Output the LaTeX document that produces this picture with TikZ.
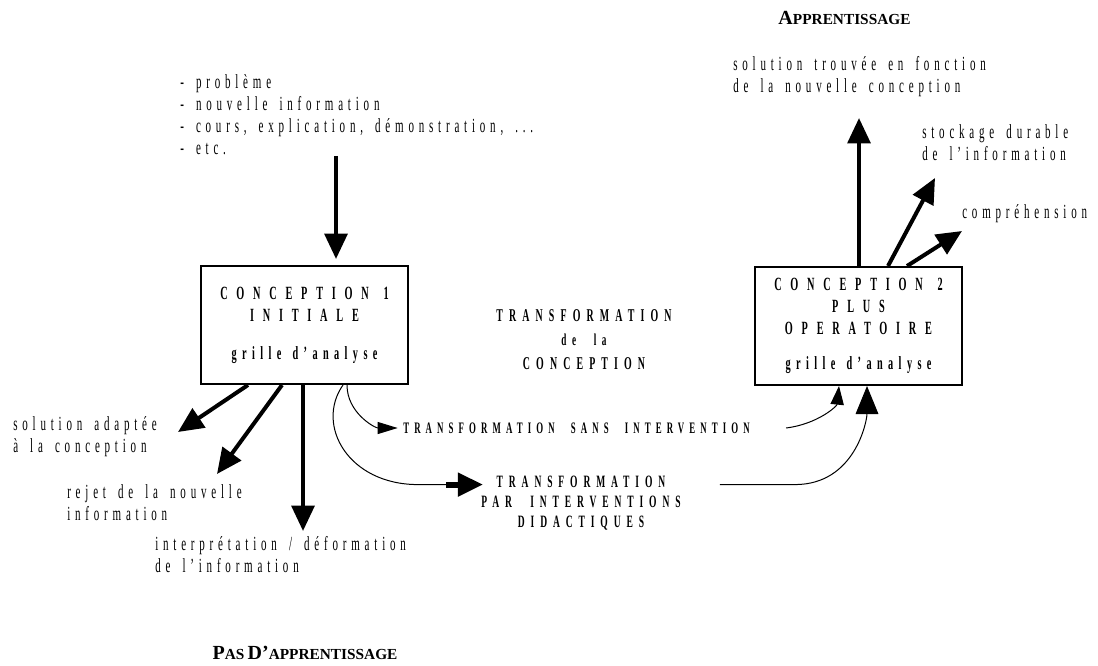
\documentclass[tikz,border=0pt]{standalone}
\usepackage{fontspec}
\setmainfont{Liberation Serif}
\newfontfamily\narrowfont[FakeStretch=0.55,LetterSpace=24,WordSpace=1.6]{Liberation Serif}
\newfontfamily\narrowcaps[FakeStretch=0.55,LetterSpace=34,WordSpace=2.2]{Liberation Serif}
\newfontfamily\widecaps[FakeStretch=0.55,LetterSpace=47,WordSpace=1.3]{Liberation Serif}
\newfontfamily\boxlower[FakeStretch=0.55,LetterSpace=29,WordSpace=1.4]{Liberation Serif}
\usetikzlibrary{arrows.meta, positioning, calc}
\newcommand\fakesc[2]{{\fontsize{15}{15}\selectfont #1}{\fontsize{11.5}{11.5}\selectfont #2}}

\begin{document}
\begin{tikzpicture}[x=0.75pt, y=-0.75pt,
		concept/.style={rectangle, draw=black, line width=1.5pt, minimum width=155.25pt,
				minimum height=88.5pt, align=center, inner sep=0pt,
				font=\widecaps\bfseries\fontsize{14}{16.5}\selectfont},
		txt/.style={align=left, anchor=north west, inner sep=0pt,
				font=\narrowfont\fontsize{15}{16.5}\selectfont},
		caps/.style={align=center, inner sep=0pt,
				font=\narrowcaps\bfseries\fontsize{13.5}{18}\selectfont},
		title/.style={inner sep=0pt, font=\bfseries},
		big/.style={line width=3pt, -{Triangle[width=17pt,length=19pt]}},
		fine/.style={line width=0.75pt}]
	\useasboundingbox (0,0) rectangle (1098,666);

	% Define nodes
	\node [title] (learn) at (844.5,18) {\fakesc{A}{PPRENTISSAGE}};
	\node [title] (nolearn) at (305,653) {\fakesc{P}{AS} \fakesc{D’}{APPRENTISSAGE}};

	\node [txt] (input) at (180,74) {- problème\\- nouvelle information\\- cours, explication, démonstration, ...\\- etc.};

	\node [concept] (c1) at (304.5,325) {CONCEPTION 1\\INITIALE\\[12pt]{\boxlower grille d’analyse}};
	\node [concept] (c2) at (858.5,326) {CONCEPTION 2\\PLUS\\OPERATOIRE\\[10pt]{\boxlower grille d’analyse}};

	\node [caps] (transfo) at (584,340) {TRANSFORMATION\\{\fontsize{12.5}{18}\selectfont de la}\\CONCEPTION};
	\node [caps, anchor=west, font=\narrowcaps\bfseries\fontsize{12}{15}\selectfont] (sans) at (403,428)
		{\addfontfeature{LetterSpace=32}TRANSFORMATION SANS INTERVENTION};
	\node [caps, font=\narrowcaps\bfseries\fontsize{13}{15}\selectfont] (interv) at (581,503)
		{TRANSFORMATION\\PAR INTERVENTIONS\\DIDACTIQUES};

	\node [txt] (adaptee) at (13,416) {solution adaptée\\à la conception};
	\node [txt] (rejet) at (67,484) {rejet de la nouvelle\\information};
	\node [txt] (interp) at (155,536) {interprétation / déformation\\de l’information};

	\node [txt] (trouvee) at (733,56) {solution trouvée en fonction\\de la nouvelle conception};
	\node [txt] (stock) at (922,124) {stockage durable\\de l’information};
	\node [txt] (compr) at (962,204) {compréhension};

	% Arrow ends
	\coordinate (inTop) at ($(c1.north)+(31.5,-109)$);
	\coordinate (tipA) at ($(c1.south)+(-126.5,47)$);
	\coordinate (tipB) at ($(c1.south)+(-87.5,89)$);
	\coordinate (tipC) at ($(c1.south)+(-1.5,146)$);
	\coordinate (tipD) at ($(c2.north)+(0.5,-148)$);
	\coordinate (tipE) at ($(c2.north)+(76.5,-88)$);
	\coordinate (tipF) at ($(c2.north)+(103.5,-35)$);
	\coordinate (stub) at ($(interv.north west)+(-35,9)$);
	\coordinate (back) at ($(interv.north east)+(39,9)$);

	% Draw connections
	\draw [big] (inTop) -- ($(c1.north)+(31.5,-6)$);
	\draw [big] ($(c1.south)+(-56.5,0)$) -- (tipA);
	\draw [big] ($(c1.south)+(-22.5,0)$) -- (tipB);
	\draw [big] ($(c1.south)+(-1.5,0)$) -- (tipC);
	\draw [big] ($(c2.north)+(0.5,0)$) -- (tipD);
	\draw [big] ($(c2.north)+(29.5,0)$) -- (tipE);
	\draw [big] ($(c2.north)+(48.5,0)$) -- (tipF);

	\draw [fine, -{Triangle[width=9pt,length=15pt]}, shorten >=4pt] ($(c1.south)+(42.5,0)$)
		.. controls +(0,28) and +(-28,0) .. (sans.west);
	\draw [fine, -{Triangle[width=10pt,length=14pt]}] ([xshift=27pt]sans.east)
		.. controls +(32,-4) and +(-2,20) .. ($(c2.south)+(-19.5,0)$);
	\draw [fine] ($(c1.south)+(38.5,0)$) .. controls +(-28,40) and +(-70,0) .. ($(stub)+(-28,0)$) -- (stub);
	\draw [line width=4.5pt, -{Triangle[width=17pt,length=19pt]}] (stub) -- ($(stub)+(37,0)$);
	\draw [fine, -{Triangle[width=17pt,length=21pt]}] (back) -- ($(back)+(75,0)$)
		.. controls +(60,0) and +(0,35) .. ($(c2.south)+(8.5,0)$);

\end{tikzpicture}
\end{document}
